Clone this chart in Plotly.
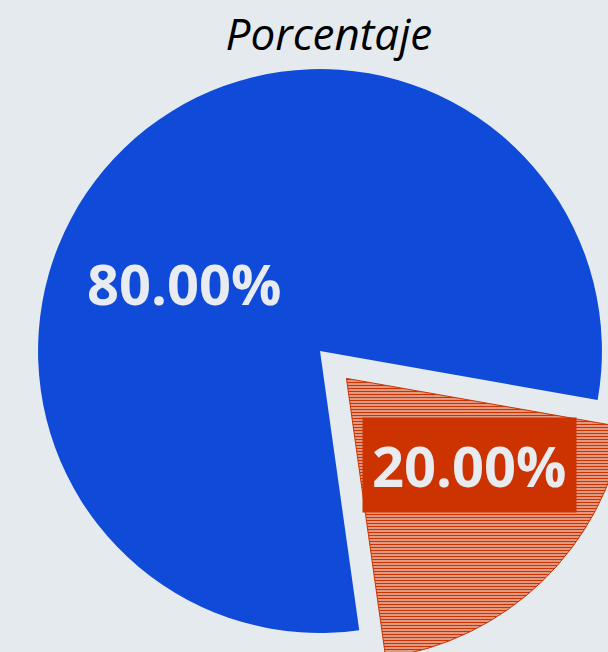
import plotly.graph_objects as go

labels = ["A", "B"]
values = [80, 20]
colors = ["#0f4bd8", "#cc3300"]
pulls = [0, 0.135]
title_text = "Porcentaje"

BG = "#e5eaee"
TXT = "#e8ecf0"
W, H, T = 640, 671, 31

total = sum(values)
pct_text = [f"{v / total:.2%}" for v in values]

fig = go.Figure(
    go.Pie(
        labels=labels,
        values=values,
        sort=False,
        direction="counterclockwise",
        rotation=172,
        pull=pulls,
        textinfo="none",
        marker=dict(
            colors=colors,
            line=dict(color=colors, width=[0, 1]),
            pattern=dict(
                shape=["", "-"],
                fgcolor=colors,
                bgcolor=[colors[0], "#f4f5f6"],
                fgopacity=1,
                size=[3, 3],
                solidity=[0.65, 0.65],
                fillmode="replace",
            ),
        ),
        showlegend=False,
        hoverinfo="label+percent",
    )
)

# label boxes (text from data)
label_pos = [(0.289, 0.606), (0.734, 0.322)]
label_bg = ["rgba(0,0,0,0)", colors[1]]
for txt, (lx, ly), bg in zip(pct_text, label_pos, label_bg):
    fig.add_annotation(
        text=f"<b>{txt}</b>",
        x=lx, y=ly, xref="paper", yref="paper",
        xanchor="center", yanchor="middle",
        showarrow=False,
        bgcolor=bg,
        borderpad=9,
        font=dict(family="Open Sans", size=56, color=TXT),
    )

fig.update_layout(
    width=W,
    height=H,
    margin=dict(l=0, r=0, t=T, b=0),
    paper_bgcolor=BG,
    plot_bgcolor=BG,
    title=dict(
        text=title_text,
        x=0.514,
        xanchor="center",
        y=1 - 35 / H,
        yanchor="middle",
        yref="container",
        font=dict(family="Open Sans", size=44, color="#000000", style="italic"),
    ),
)

fig.write_html(
    "out.html",
    config={"displayModeBar": False},
    post_script="document.body.style.margin='0';document.body.style.overflow='hidden';document.body.style.background='" + BG + "';",
)
